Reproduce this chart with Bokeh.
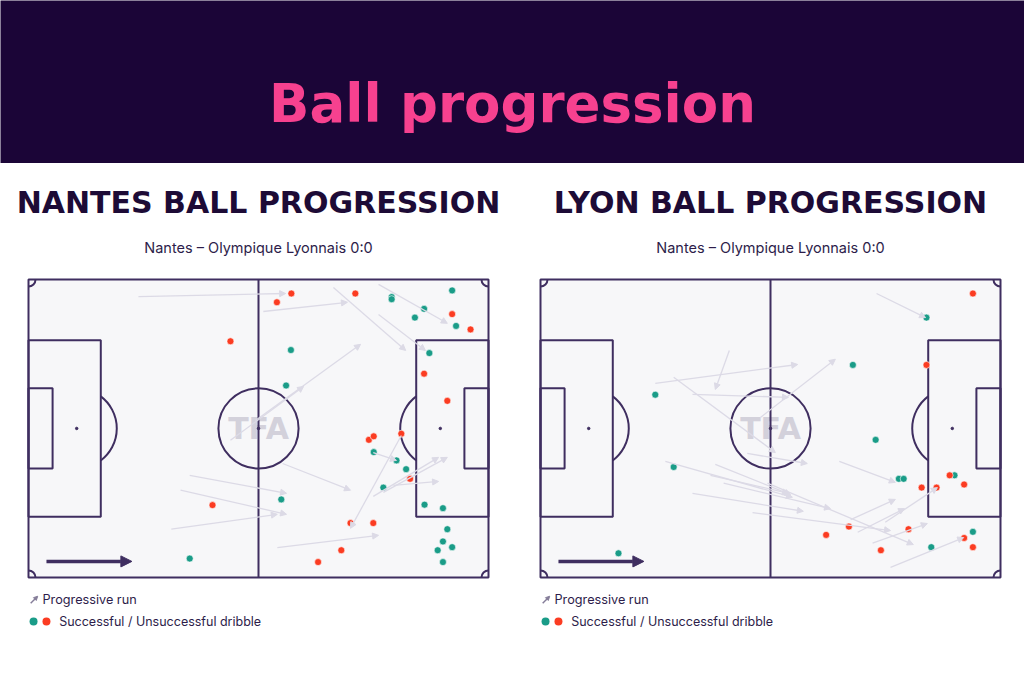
import numpy as np
from bokeh.plotting import figure
from bokeh.models import Range1d, ColumnDataSource, Arrow, NormalHead
from bokeh.layouts import column, row
from bokeh.embed import file_html
from bokeh.resources import INLINE
from bokeh.core.properties import value

# ---------------- data (pitch metres, 105 x 68, attacking left -> right) -------------
TITLE = "Ball progression"
SUBTITLE = "Nantes – Olympique Lyonnais 0:0"
team_titles = ["NANTES BALL PROGRESSION", "LYON BALL PROGRESSION"]
legend_labels = ["Progressive run", "Successful / Unsuccessful dribble"]

# Nantes
nantes_ok_x = [82.9, 82.9, 96.7, 90.3, 88.2, 97.6, 91.5, 59.9, 58.8, 78.8, 84.0, 86.2,
               81.0, 57.7, 90.4, 94.6, 95.6, 94.6, 96.7, 93.4, 94.6, 36.8]
nantes_ok_y = [64.0, 63.5, 65.5, 61.3, 59.3, 57.4, 51.2, 51.9, 43.8, 28.6, 26.7, 24.7,
               20.5, 17.8, 16.6, 15.8, 11.0, 8.2, 6.9, 6.2, 3.5, 4.3]
nantes_fail_x = [60.0, 56.7, 74.6, 96.7, 100.9, 90.3, 95.6, 46.1, 77.7, 78.8, 85.1, 87.1,
                 73.5, 78.7, 71.4, 66.1, 42.0]
nantes_fail_y = [64.8, 62.8, 64.8, 60.1, 56.6, 46.5, 40.3, 53.9, 31.4, 32.2, 32.8, 22.5,
                 12.4, 12.4, 6.2, 3.5, 16.5]
nantes_run_x0 = [25.1, 53.6, 69.6, 79.9, 79.9, 51.8, 46.1, 36.8, 34.7, 32.6, 58.0, 85.1, 56.8, 78.7, 81.0, 83.3, 78.7]
nantes_run_y0 = [64.1, 60.7, 66.2, 66.9, 60.0, 35.8, 31.3, 23.3, 19.9, 11.0, 26.0, 32.4, 6.8, 18.5, 19.4, 21.0, 28.5]
nantes_run_x1 = [58.7, 72.8, 86.1, 95.6, 90.6, 75.8, 62.8, 58.9, 58.9, 56.8, 73.5, 73.5, 79.9, 93.6, 95.6, 93.6, 84.0]
nantes_run_y1 = [64.8, 62.8, 51.8, 58.0, 51.8, 53.2, 43.6, 19.2, 14.4, 14.4, 19.9, 11.2, 9.6, 27.4, 27.4, 21.9, 26.7]

# Lyon
lyon_ok_x = [26.2, 88.1, 71.3, 30.4, 17.8, 76.5, 81.8, 82.9, 94.5, 89.2, 98.7]
lyon_ok_y = [41.7, 59.3, 48.5, 25.2, 5.5, 31.4, 22.5, 22.5, 23.3, 6.9, 10.4]
lyon_fail_x = [98.7, 88.1, 93.4, 96.7, 87.0, 90.4, 70.4, 65.2, 84.0, 77.7, 96.7, 98.7]
lyon_fail_y = [64.8, 48.5, 23.3, 21.2, 20.5, 20.5, 11.6, 9.7, 11.0, 6.2, 9.0, 6.9]
lyon_run_x0 = [43.1, 26.2, 30.4, 34.7, 50.2, 47.2, 28.5, 39.9, 38.8, 34.7, 41.8, 48.4, 51.8, 68.2, 70.8, 72.4, 78.7, 75.8, 79.9, 76.7]
lyon_run_y0 = [51.8, 44.3, 45.7, 41.8, 36.5, 28.3, 26.5, 25.8, 23.3, 19.2, 21.5, 14.8, 21.5, 26.5, 13.2, 10.3, 12.6, 7.8, 2.3, 64.8]
lyon_run_x1 = [39.9, 58.7, 53.6, 56.6, 67.3, 60.9, 57.5, 57.1, 56.6, 60.0, 66.2, 79.9, 85.1, 81.0, 81.0, 83.1, 90.6, 88.3, 96.6, 87.9]
lyon_run_y1 = [42.9, 48.6, 28.5, 41.1, 49.8, 26.0, 18.3, 18.9, 19.2, 15.1, 15.7, 10.7, 7.5, 21.7, 17.8, 15.7, 20.5, 12.3, 9.1, 59.3]

# ---------------- styling ----------------
BG_DARK = "#1b0537"
PINK = "#f7418f"
INK = "#1d0b36"
LINE = "#3f2e60"
PITCH = "#f7f7f9"
RUN = "#dcdae6"
TEAL = "#1a9c88"
RED = "#fb3c22"
L, W = 105.0, 68.0
PX = 460 / 105  # pixels per metre
HEAD_H = 163
FIG_W, FIG_H = 512, 517

header = figure(width=1024, height=HEAD_H, x_range=Range1d(0, 1024), y_range=Range1d(0, HEAD_H),
                toolbar_location=None, output_backend="svg", min_border=0,
                x_axis_location=None, y_axis_location=None,
                background_fill_color=BG_DARK, border_fill_color=BG_DARK)
header.grid.visible = False
header.outline_line_color = None
header.text(x=[512], y=[60], text=[TITLE], text_color=PINK, text_font=value("DejaVu Sans"),
            text_font_style="bold", text_font_size="53px", text_align="center",
            text_baseline="alphabetic")


def pitch_fig(left_px, title, ok_x, ok_y, fail_x, fail_y, rx0, ry0, rx1, ry1):
    xs = -left_px / PX
    ye = W + 116 / PX
    p = figure(width=FIG_W, height=FIG_H, x_range=Range1d(xs, xs + FIG_W / PX),
               y_range=Range1d(ye - FIG_H / PX, ye), toolbar_location=None,
               output_backend="svg", min_border=0, x_axis_location=None,
               y_axis_location=None, background_fill_color="white",
               border_fill_color="white")
    p.grid.visible = False
    p.outline_line_color = None

    # pitch
    p.rect(x=[L / 2], y=[W / 2], width=[L], height=[W], fill_color=PITCH, line_color=None)
    p.text(x=[L / 2], y=[W / 2], text=["TFA"], text_color="#d3d1db",
           text_font=value("DejaVu Sans"), text_font_style="bold", text_font_size="30px",
           text_align="center", text_baseline="middle")
    lw = 2
    p.rect(x=[L / 2], y=[W / 2], width=[L], height=[W], fill_color=None, line_color=LINE, line_width=lw)
    p.segment(x0=[L / 2], y0=[0], x1=[L / 2], y1=[W], line_color=LINE, line_width=lw)
    # boxes
    for bx, bw in [(16.5, 40.32), (5.5, 18.32)]:
        p.rect(x=[bx / 2, L - bx / 2], y=[W / 2, W / 2], width=[bx, bx], height=[bw, bw],
               fill_color=None, line_color=LINE, line_width=lw)
    p.circle(x=[L / 2], y=[W / 2], radius=9.15, fill_color=None, line_color=LINE, line_width=lw)
    a = np.arccos(5.5 / 9.15)
    p.arc(x=[11], y=[W / 2], radius=9.15, start_angle=-a, end_angle=a, line_color=LINE, line_width=lw)
    p.arc(x=[L - 11], y=[W / 2], radius=9.15, start_angle=np.pi - a, end_angle=np.pi + a,
          line_color=LINE, line_width=lw)
    p.scatter(x=[11, L / 2, L - 11], y=[W / 2] * 3, size=2.5, color=LINE)
    # corner arcs
    r = 1.6
    p.arc(x=[0], y=[0], radius=r, start_angle=0, end_angle=np.pi / 2, line_color=LINE, line_width=lw)
    p.arc(x=[0], y=[W], radius=r, start_angle=-np.pi / 2, end_angle=0, line_color=LINE, line_width=lw)
    p.arc(x=[L], y=[0], radius=r, start_angle=np.pi / 2, end_angle=np.pi, line_color=LINE, line_width=lw)
    p.arc(x=[L], y=[W], radius=r, start_angle=np.pi, end_angle=1.5 * np.pi, line_color=LINE, line_width=lw)

    # runs
    src = ColumnDataSource(dict(x0=rx0, y0=ry0, x1=rx1, y1=ry1))
    p.add_layout(Arrow(end=NormalHead(size=6, fill_color=RUN, line_color=RUN, line_width=1),
                       x_start="x0", y_start="y0", x_end="x1", y_end="y1", source=src,
                       line_color=RUN, line_width=1.3))
    # dribbles
    p.scatter(x=ok_x, y=ok_y, size=7, fill_color=TEAL, line_color="white", line_width=0.6)
    p.scatter(x=fail_x, y=fail_y, size=7, fill_color=RED, line_color="white", line_width=0.6)

    # direction of play
    p.add_layout(Arrow(end=NormalHead(size=11, fill_color=LINE, line_color=LINE),
                       x_start=4.1, y_start=3.65, x_end=23.6, y_end=3.65,
                       line_color=LINE, line_width=3.5))

    # titles
    p.text(x=[L / 2], y=[85.6], text=[title], text_color=INK, text_font=value("DejaVu Sans"),
           text_font_style="bold", text_font_size="30px", text_align="center",
           text_baseline="alphabetic")
    p.text(x=[L / 2], y=[75.4], text=[SUBTITLE], text_color="#2d1d4a", text_font=value("Inter"),
           text_font_size="14.5px", text_align="center", text_baseline="alphabetic")

    # legend
    p.add_layout(Arrow(end=NormalHead(size=4, fill_color="#857d99", line_color="#857d99"),
                       x_start=0.5, y_start=-5.9, x_end=2.1, y_end=-4.3,
                       line_color="#857d99", line_width=1.5))
    p.text(x=[3.2], y=[-5.0], text=[legend_labels[0]], text_color="#2d1d4a",
           text_font=value("Inter"), text_font_size="12.7px", text_baseline="middle")
    p.scatter(x=[1.15], y=[-10.05], size=8, fill_color=TEAL, line_color=None)
    p.scatter(x=[4.1], y=[-10.05], size=8, fill_color=RED, line_color=None)
    p.text(x=[7.0], y=[-10.05], text=[legend_labels[1]], text_color="#2d1d4a",
           text_font=value("Inter"), text_font_size="12.5px", text_baseline="middle")
    return p


left = pitch_fig(28, team_titles[0], nantes_ok_x, nantes_ok_y, nantes_fail_x, nantes_fail_y,
                 nantes_run_x0, nantes_run_y0, nantes_run_x1, nantes_run_y1)
right = pitch_fig(28, team_titles[1], lyon_ok_x, lyon_ok_y, lyon_fail_x, lyon_fail_y,
                  lyon_run_x0, lyon_run_y0, lyon_run_x1, lyon_run_y1)

layout = column(header, row(left, right, spacing=0), spacing=0)
open("out.html", "w").write(file_html(layout, INLINE))
